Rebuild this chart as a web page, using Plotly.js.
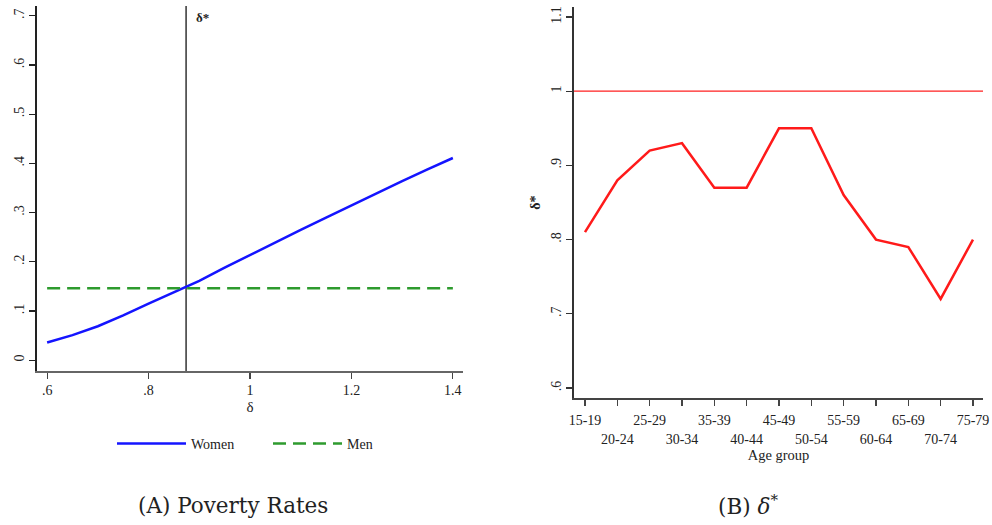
<!DOCTYPE html>
<html>
<head>
<meta charset="utf-8">
<script src="https://cdn.plot.ly/plotly-3.0.1.min.js"></script>
<style>
  html, body { margin: 0; padding: 0; background: #fff; }
  #chart { width: 992px; height: 525px; }
</style>
</head>
<body>
<div id="chart"></div>
<script>
// Panel A: poverty rates as a function of delta
const deltaGrid = [0.6, 0.65, 0.7, 0.75, 0.8, 0.85, 0.9, 0.95, 1.0, 1.05, 1.1, 1.15, 1.2, 1.25, 1.3, 1.35, 1.4];
const womenRate = [0.036, 0.051, 0.069, 0.091, 0.115, 0.138, 0.161, 0.188, 0.214, 0.240, 0.265, 0.290, 0.315, 0.340, 0.364, 0.388, 0.411];
const menRate = 0.146;
const deltaStar = 0.874;

// Panel B: delta* by age group
const ageGroups = ['15-19', '20-24', '25-29', '30-34', '35-39', '40-44', '45-49', '50-54', '55-59', '60-64', '65-69', '70-74', '75-79'];
const deltaStarByAge = [0.81, 0.88, 0.92, 0.93, 0.87, 0.87, 0.95, 0.95, 0.86, 0.80, 0.79, 0.72, 0.80];
const parityLevel = 1.0;

// Tick labels
const panelAXTicks = [0.6, 0.8, 1.0, 1.2, 1.4];
const panelAXText = ['.6', '.8', '1', '1.2', '1.4'];
const panelAYTicks = [0, 0.1, 0.2, 0.3, 0.4, 0.5, 0.6, 0.7];
const panelAYText = ['0', '.1', '.2', '.3', '.4', '.5', '.6', '.7'];
const panelBYTicks = [0.6, 0.7, 0.8, 0.9, 1.0, 1.1];
const panelBYText = ['.6', '.7', '.8', '.9', '1', '1.1'];

const W = 992, H = 525;
const px = v => v / W;
const py = v => 1 - v / H;

const serif = 'Liberation Serif, Times New Roman, serif';
const captionFont = 'DejaVu Serif, serif';
const ink = '#222';

// Age-group labels alternate between two rows
const ageTickText = ageGroups.map((g, i) => (i % 2 === 0 ? g : '<br>' + g));
const ageIndex = ageGroups.map((g, i) => i);

const traces = [
  {
    x: deltaGrid, y: womenRate, xaxis: 'x', yaxis: 'y',
    type: 'scatter', mode: 'lines', name: 'Women',
    line: { color: '#1414ff', width: 2.5 }
  },
  {
    x: [deltaGrid[0], deltaGrid[deltaGrid.length - 1]], y: [menRate, menRate],
    xaxis: 'x', yaxis: 'y', type: 'scatter', mode: 'lines', name: 'Men',
    line: { color: '#2e9b2e', width: 2.5, dash: '13px,7px' }
  },
  {
    x: ageIndex, y: deltaStarByAge, xaxis: 'x2', yaxis: 'y2',
    type: 'scatter', mode: 'lines', showlegend: false,
    line: { color: '#ff1a1a', width: 2.5 }
  }
];

const axisCommon = {
  showgrid: false, zeroline: false, showline: true,
  ticks: 'outside', ticklen: 6, tickwidth: 1.2,
  tickfont: { family: serif, size: 14, color: ink },
  fixedrange: true
};

const layout = {
  width: W, height: H,
  margin: { l: 0, r: 0, t: 0, b: 0 },
  paper_bgcolor: '#fff', plot_bgcolor: '#fff',
  showlegend: true,
  legend: {
    orientation: 'h', x: px(112), xanchor: 'left', y: py(428), yanchor: 'top',
    font: { family: serif, size: 14, color: ink },
    entrywidth: 72, itemwidth: 69, bgcolor: 'rgba(0,0,0,0)'
  },
  xaxis: Object.assign({}, axisCommon, {
    domain: [px(37), px(463)], anchor: 'y',
    range: [0.58, 1.42], tickvals: panelAXTicks, ticktext: panelAXText,
    linecolor: '#666', linewidth: 1.6, tickcolor: '#444',
    title: { text: 'δ', font: { family: serif, size: 15, color: ink }, standoff: 4 }
  }),
  yaxis: Object.assign({}, axisCommon, {
    domain: [py(371), py(6)], anchor: 'x',
    range: [-0.022, 0.72], tickvals: panelAYTicks, ticktext: panelAYText,
    tickangle: -90, linecolor: '#222', linewidth: 1.6, tickcolor: '#222'
  }),
  xaxis2: Object.assign({}, axisCommon, {
    domain: [px(574), px(983)], anchor: 'y2',
    range: [-0.34, 12.31], tickvals: ageIndex, ticktext: ageTickText,
    tickangle: 0, linecolor: '#444', linewidth: 1.6, tickcolor: '#444',
    tickfont: { family: serif, size: 14, color: ink }, ticklabelstandoff: 3,
    title: { text: 'Age group', font: { family: serif, size: 14.5, color: ink }, standoff: 2 }
  }),
  yaxis2: Object.assign({}, axisCommon, {
    domain: [py(398), py(7)], anchor: 'x2',
    range: [0.5865, 1.1135], tickvals: panelBYTicks, ticktext: panelBYText,
    tickangle: -90, linecolor: '#333', linewidth: 1.6, tickcolor: '#333',
    title: { text: '<b>δ*</b>', font: { family: serif, size: 14, color: ink }, standoff: 5 }
  }),
  shapes: [
    {
      type: 'line', xref: 'x', yref: 'y domain',
      x0: deltaStar, x1: deltaStar, y0: 0, y1: 1,
      line: { color: '#555', width: 1.8 }, layer: 'below'
    },
    {
      type: 'line', xref: 'x2 domain', yref: 'y2',
      x0: 0, x1: 1, y0: parityLevel, y1: parityLevel,
      line: { color: '#ff2020', width: 1.3 }
    }
  ],
  annotations: [
    {
      xref: 'x', yref: 'y domain', x: deltaStar, y: 1, xanchor: 'left', yanchor: 'top',
      xshift: 8, yshift: -2, showarrow: false,
      text: '<b>δ*</b>', font: { family: serif, size: 13, color: ink }
    },
    {
      xref: 'paper', yref: 'paper', x: px(233), y: py(505), xanchor: 'center', yanchor: 'middle',
      showarrow: false, text: '(A) Poverty Rates',
      font: { family: captionFont, size: 21.5, color: ink }
    },
    {
      xref: 'paper', yref: 'paper', x: px(748), y: py(505), xanchor: 'center', yanchor: 'middle',
      showarrow: false, text: '(B) <i>δ</i><sup>*</sup>',
      font: { family: captionFont, size: 21.5, color: ink }
    }
  ]
};

Plotly.newPlot('chart', traces, layout, { displayModeBar: false, staticPlot: true });
</script>
</body>
</html>
